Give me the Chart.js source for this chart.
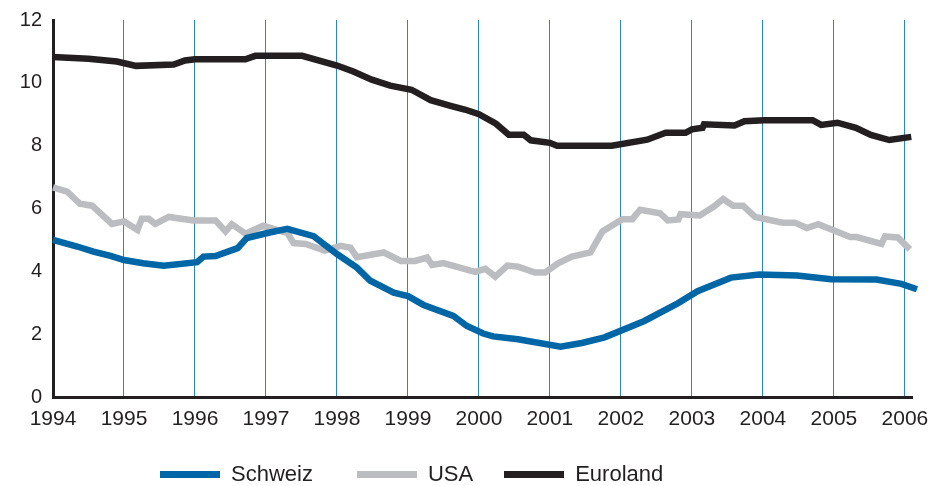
<!doctype html>
<html lang="en">
  <head>
    <title>Zinsen Schweiz USA Euroland</title>
    <meta charset="utf-8">
    <script src="https://cdn.jsdelivr.net/npm/chart.js"></script>
    <style>
      body { margin: 0; background: #fff; }
      #wrap { position: relative; width: 934px; height: 486px; }
      #legend {
        position: absolute; left: 160px; top: 461px; height: 26px;
        display: flex; align-items: center;
        font: 22px "Liberation Sans", Arial, sans-serif; color: #231f20;
      }
      .item { display: flex; align-items: center; }
      .box { width: 60px; height: 7px; margin-right: 11px; }
    </style>
  </head>
  <body>
    <div id="wrap">
      <canvas id="myChart" width="934" height="486"></canvas>
      <div id="legend"></div>
    </div>

<script type="text/javascript">
  // series names and colours
  var names = ['Schweiz', 'USA', 'Euroland'];
  var colors = ['#0066a6', '#bcbdc0', '#231f20'];

  // x axis ticks
  var yearTicks = [1994, 1995, 1996, 1997, 1998, 1999, 2000, 2001, 2002, 2003, 2004, 2005, 2006];

  // Schweiz
  var chYears = [1994.0, 1994.34, 1994.57, 1994.81, 1995.0, 1995.27, 1995.56, 1996.03, 1996.12, 1996.29,
    1996.6, 1996.73, 1997.02, 1997.3, 1997.67, 1998.0, 1998.28, 1998.47, 1998.8, 1999.0,
    1999.22, 1999.64, 1999.83, 2000.06, 2000.2, 2000.55, 2001.15, 2001.45, 2001.77, 2002.33,
    2002.8, 2003.08, 2003.55, 2003.95, 2004.48, 2004.96, 2005.6, 2005.95, 2006.17];
  var chValues = [5.0, 4.79, 4.63, 4.49, 4.36, 4.26, 4.18, 4.29, 4.47, 4.49,
    4.74, 5.06, 5.22, 5.35, 5.12, 4.55, 4.12, 3.7, 3.32, 3.21,
    2.93, 2.58, 2.26, 2.02, 1.93, 1.84, 1.6, 1.72, 1.9, 2.42,
    2.98, 3.37, 3.8, 3.9, 3.87, 3.75, 3.74, 3.6, 3.43];

  // USA
  var usYears = [1994.0, 1994.2, 1994.38, 1994.55, 1994.83, 1995.0, 1995.19, 1995.25, 1995.35, 1995.44,
    1995.63, 1995.98, 1996.29, 1996.43, 1996.52, 1996.71, 1996.96, 1997.3, 1997.39, 1997.56,
    1997.83, 1998.05, 1998.19, 1998.28, 1998.66, 1998.9, 1999.1, 1999.27, 1999.34, 1999.5,
    1999.88, 1999.95, 2000.09, 2000.23, 2000.4, 2000.55, 2000.79, 2000.93, 2001.12, 2001.31,
    2001.57, 2001.74, 2002.02, 2002.16, 2002.27, 2002.55, 2002.66, 2002.81, 2002.84, 2003.11,
    2003.31, 2003.44, 2003.58, 2003.72, 2003.89, 2004.28, 2004.45, 2004.62, 2004.78, 2005.23,
    2005.32, 2005.67, 2005.72, 2005.9, 2006.07];
  var usValues = [6.67, 6.54, 6.15, 6.09, 5.51, 5.59, 5.32, 5.67, 5.67, 5.51,
    5.73, 5.62, 5.62, 5.27, 5.5, 5.2, 5.45, 5.22, 4.9, 4.87,
    4.66, 4.81, 4.75, 4.45, 4.6, 4.33, 4.33, 4.44, 4.2, 4.26,
    4.02, 3.98, 4.08, 3.83, 4.18, 4.15, 3.96, 3.96, 4.26, 4.47,
    4.6, 5.27, 5.66, 5.66, 5.96, 5.85, 5.62, 5.65, 5.82, 5.78,
    6.06, 6.3, 6.09, 6.09, 5.73, 5.55, 5.55, 5.38, 5.5, 5.09,
    5.09, 4.87, 5.11, 5.08, 4.7];

  // Euroland
  var euYears = [1994.0, 1994.5, 1994.9, 1995.17, 1995.7, 1995.86, 1996.0, 1996.71, 1996.85, 1997.51,
    1998.0, 1998.23, 1998.49, 1998.75, 1999.05, 1999.32, 1999.6, 1999.8, 2000.0, 2000.24,
    2000.42, 2000.63, 2000.73, 2001.0, 2001.1, 2001.87, 2002.37, 2002.63, 2002.91, 2003.0,
    2003.15, 2003.17, 2003.6, 2003.74, 2004.02, 2004.7, 2004.82, 2005.05, 2005.31, 2005.52,
    2005.78, 2006.09];
  var euValues = [10.82, 10.77, 10.68, 10.54, 10.58, 10.71, 10.75, 10.75, 10.86, 10.86,
    10.55, 10.36, 10.1, 9.91, 9.78, 9.45, 9.27, 9.15, 9.0, 8.7,
    8.35, 8.35, 8.17, 8.09, 8.0, 8.0, 8.19, 8.41, 8.41, 8.52,
    8.57, 8.68, 8.64, 8.78, 8.81, 8.81, 8.66, 8.73, 8.57, 8.34,
    8.18, 8.28];

  // y axis
  var yMin = 0, yMax = 12, yStep = 2;

  function toPoints(xs, ys) {
    return xs.map(function (x, i) { return {x: x, y: ys[i]}; });
  }

  var seriesData = [toPoints(chYears, chValues), toPoints(usYears, usValues), toPoints(euYears, euValues)];

  var font = '"Liberation Sans", Arial, sans-serif';

  const config = {
    type: 'line',
    data: {
      datasets: names.map(function (n, i) {
        return {
          label: n,
          data: seriesData[i],
          borderColor: colors[i],
          backgroundColor: colors[i],
          borderWidth: 6.5,
          pointRadius: 0,
          tension: 0,
          borderJoinStyle: 'miter',
          borderCapStyle: 'butt',
          clip: false
        };
      })
    },
    options: {
      responsive: false,
      animation: false,
      events: [],
      layout: { padding: { top: 20, right: 22, left: 0, bottom: 0 } },
      plugins: { legend: { display: false }, tooltip: { enabled: false } },
      scales: {
        x: {
          type: 'linear',
          min: 1994,
          max: 2006.1,
          afterFit: function (s) { s.height = 89; s.paddingLeft = 0; s.paddingRight = 0; },
          afterBuildTicks: function (s) { s.ticks = yearTicks.map(function (v) { return {value: v}; }); },
          grid: { display: true, color: '#3084c4', lineWidth: 1, drawTicks: false },
          border: { display: true, color: '#231f20', width: 3 },
          ticks: {
            autoSkip: false, maxRotation: 0, padding: 10,
            color: '#231f20', font: { family: font, size: 21 },
            callback: function (v) { return String(v); }
          }
        },
        y: {
          min: yMin,
          max: yMax,
          afterFit: function (s) { s.width = 53; s.paddingTop = 0; s.paddingBottom = 0; },
          grid: { display: false, drawTicks: false },
          border: { display: true, color: '#231f20', width: 3 },
          ticks: {
            stepSize: yStep, padding: 11,
            color: '#231f20', font: { family: font, size: 20 }
          }
        }
      }
    }
  };

  var myChart = new Chart(document.getElementById('myChart'), config);

  // legend built from the series names and colours
  var legend = document.getElementById('legend');
  var gaps = [44, 31, 0];
  names.forEach(function (n, i) {
    var item = document.createElement('div');
    item.className = 'item';
    item.style.marginRight = gaps[i] + 'px';
    var box = document.createElement('span');
    box.className = 'box';
    box.style.background = colors[i];
    var txt = document.createElement('span');
    txt.textContent = n;
    item.appendChild(box);
    item.appendChild(txt);
    legend.appendChild(item);
  });
</script>
  </body>
</html>
